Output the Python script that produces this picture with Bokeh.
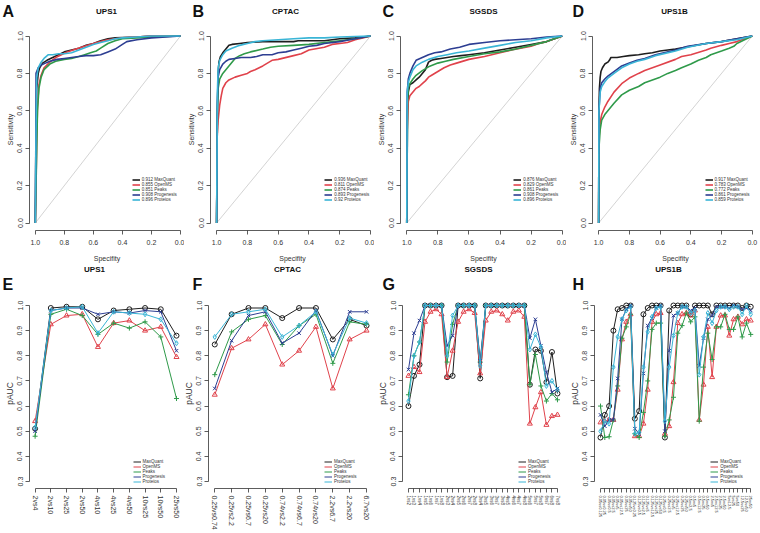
from bokeh.plotting import figure
from bokeh.layouts import column, row
from bokeh.models import Range1d, FixedTicker, Legend, LegendItem, PrintfTickFormatter
from bokeh.core.properties import value
from bokeh.embed import file_html
from bokeh.resources import INLINE

FONT = "Liberation Sans"

SERIES = ["MaxQuant", "OpenMS", "Peaks", "Progenesis", "Proteios"]
COLORS = ["#1e1e1e", "#e0424b", "#2f9a4a", "#2d3e92", "#3ab5d6"]
MARKERS = ["circle", "triangle", "cross", "x", "diamond"]

# ---------------- ROC curves: (specificity, sensitivity) ----------------
UPS1_MAXQUANT = [(1, 0), (0.995, 0.55), (0.99, 0.72), (0.98, 0.8), (0.97, 0.83), (0.95, 0.855), (0.92, 0.87), (0.88, 0.885), (0.84, 0.9), (0.8, 0.915), (0.75, 0.925), (0.7, 0.935), (0.65, 0.95), (0.6, 0.96), (0.55, 0.975), (0.5, 0.985), (0.45, 0.99), (0.3, 0.995), (0.2, 1.0), (0, 1)]
UPS1_OPENMS = [(1, 0), (0.99, 0.45), (0.985, 0.62), (0.975, 0.74), (0.96, 0.79), (0.94, 0.83), (0.9, 0.86), (0.86, 0.885), (0.82, 0.9), (0.78, 0.915), (0.72, 0.93), (0.66, 0.945), (0.6, 0.96), (0.55, 0.97), (0.5, 0.98), (0.45, 0.985), (0.4, 0.99), (0.3, 0.995), (0.2, 1.0), (0, 1)]
UPS1_PEAKS = [(1, 0), (0.99, 0.4), (0.985, 0.6), (0.975, 0.72), (0.96, 0.78), (0.94, 0.82), (0.9, 0.85), (0.86, 0.865), (0.8, 0.875), (0.75, 0.88), (0.7, 0.89), (0.66, 0.9), (0.62, 0.91), (0.58, 0.92), (0.55, 0.935), (0.5, 0.96), (0.45, 0.975), (0.4, 0.985), (0.3, 0.99), (0.2, 0.995), (0, 1)]
UPS1_PROGENESIS = [(1, 0), (0.995, 0.6), (0.995, 0.8), (0.98, 0.83), (0.96, 0.845), (0.93, 0.855), (0.9, 0.865), (0.85, 0.875), (0.8, 0.88), (0.75, 0.885), (0.7, 0.89), (0.65, 0.895), (0.6, 0.895), (0.55, 0.9), (0.5, 0.915), (0.45, 0.93), (0.4, 0.955), (0.37, 0.97), (0.3, 0.98), (0.2, 0.99), (0.1, 0.995), (0, 1)]
UPS1_PROTEIOS = [(1, 0), (0.995, 0.5), (0.99, 0.78), (0.98, 0.83), (0.96, 0.86), (0.94, 0.88), (0.91, 0.9), (0.88, 0.9), (0.84, 0.905), (0.8, 0.905), (0.75, 0.91), (0.7, 0.925), (0.65, 0.94), (0.6, 0.955), (0.55, 0.965), (0.5, 0.975), (0.45, 0.985), (0.4, 0.99), (0.3, 0.995), (0.2, 1.0), (0, 1)]

CPTAC_MAXQUANT = [(1, 0), (0.995, 0.6), (0.99, 0.8), (0.985, 0.86), (0.975, 0.89), (0.96, 0.91), (0.94, 0.93), (0.92, 0.95), (0.9, 0.955), (0.85, 0.96), (0.8, 0.965), (0.7, 0.97), (0.6, 0.97), (0.5, 0.97), (0.47, 0.975), (0.3, 0.975), (0.25, 0.98), (0.2, 0.985), (0.1, 0.99), (0, 1)]
CPTAC_OPENMS = [(1, 0), (0.997, 0.45), (0.99, 0.55), (0.98, 0.63), (0.97, 0.68), (0.96, 0.72), (0.94, 0.75), (0.92, 0.765), (0.88, 0.78), (0.84, 0.79), (0.8, 0.8), (0.78, 0.81), (0.75, 0.82), (0.7, 0.84), (0.64, 0.87), (0.6, 0.875), (0.5, 0.895), (0.45, 0.905), (0.4, 0.925), (0.3, 0.94), (0.25, 0.955), (0.2, 0.96), (0.15, 0.965), (0.1, 0.98), (0.05, 0.99), (0, 1)]
CPTAC_PEAKS = [(1, 0), (0.995, 0.6), (0.99, 0.72), (0.98, 0.77), (0.96, 0.8), (0.94, 0.82), (0.92, 0.84), (0.9, 0.86), (0.88, 0.88), (0.85, 0.895), (0.82, 0.905), (0.78, 0.915), (0.7, 0.93), (0.65, 0.94), (0.6, 0.945), (0.5, 0.95), (0.4, 0.955), (0.3, 0.965), (0.2, 0.975), (0.1, 0.985), (0, 1)]
CPTAC_PROGENESIS = [(1, 0), (0.995, 0.65), (0.99, 0.78), (0.98, 0.82), (0.96, 0.85), (0.94, 0.865), (0.92, 0.875), (0.88, 0.88), (0.84, 0.885), (0.78, 0.885), (0.74, 0.89), (0.7, 0.9), (0.64, 0.9), (0.6, 0.91), (0.55, 0.915), (0.5, 0.925), (0.45, 0.935), (0.4, 0.945), (0.35, 0.95), (0.3, 0.96), (0.2, 0.97), (0.1, 0.985), (0, 1)]
CPTAC_PROTEIOS = [(1, 0), (0.995, 0.7), (0.99, 0.83), (0.98, 0.87), (0.96, 0.9), (0.94, 0.92), (0.9, 0.935), (0.85, 0.95), (0.8, 0.96), (0.75, 0.97), (0.7, 0.975), (0.6, 0.98), (0.5, 0.985), (0.4, 0.99), (0.3, 0.99), (0.2, 0.995), (0, 1)]

SGSDS_MAXQUANT = [(1, 0), (0.995, 0.6), (0.99, 0.7), (0.98, 0.74), (0.96, 0.75), (0.94, 0.765), (0.92, 0.78), (0.9, 0.8), (0.88, 0.82), (0.86, 0.86), (0.84, 0.87), (0.82, 0.875), (0.78, 0.88), (0.74, 0.885), (0.7, 0.89), (0.65, 0.895), (0.6, 0.9), (0.5, 0.91), (0.4, 0.925), (0.3, 0.94), (0.2, 0.955), (0.1, 0.97), (0.05, 0.985), (0, 1)]
SGSDS_OPENMS = [(1, 0), (0.997, 0.5), (0.99, 0.65), (0.98, 0.68), (0.96, 0.7), (0.94, 0.72), (0.92, 0.73), (0.9, 0.745), (0.88, 0.76), (0.86, 0.78), (0.84, 0.79), (0.8, 0.81), (0.76, 0.83), (0.72, 0.845), (0.68, 0.855), (0.6, 0.875), (0.5, 0.89), (0.4, 0.91), (0.3, 0.93), (0.2, 0.945), (0.15, 0.96), (0.1, 0.97), (0.05, 0.985), (0, 1)]
SGSDS_PEAKS = [(1, 0), (0.995, 0.65), (0.99, 0.72), (0.98, 0.745), (0.96, 0.77), (0.94, 0.79), (0.9, 0.815), (0.86, 0.835), (0.8, 0.855), (0.75, 0.865), (0.7, 0.875), (0.6, 0.89), (0.5, 0.905), (0.4, 0.915), (0.3, 0.93), (0.2, 0.95), (0.1, 0.97), (0.05, 0.985), (0, 1)]
SGSDS_PROGENESIS = [(1, 0), (0.997, 0.7), (0.99, 0.77), (0.98, 0.8), (0.96, 0.84), (0.94, 0.87), (0.9, 0.885), (0.86, 0.9), (0.82, 0.91), (0.78, 0.915), (0.72, 0.93), (0.66, 0.94), (0.6, 0.955), (0.5, 0.965), (0.4, 0.975), (0.3, 0.98), (0.2, 0.985), (0.1, 0.995), (0, 1)]
SGSDS_PROTEIOS = [(1, 0), (0.997, 0.7), (0.99, 0.75), (0.98, 0.78), (0.96, 0.82), (0.94, 0.84), (0.9, 0.86), (0.86, 0.875), (0.8, 0.89), (0.74, 0.9), (0.68, 0.91), (0.6, 0.92), (0.5, 0.935), (0.4, 0.95), (0.3, 0.965), (0.2, 0.975), (0.1, 0.99), (0, 1)]

UPS1B_MAXQUANT = [(1, 0), (0.998, 0.6), (0.995, 0.72), (0.99, 0.78), (0.985, 0.81), (0.975, 0.83), (0.96, 0.85), (0.94, 0.86), (0.93, 0.87), (0.92, 0.885), (0.88, 0.885), (0.84, 0.89), (0.8, 0.895), (0.74, 0.9), (0.7, 0.905), (0.65, 0.91), (0.6, 0.92), (0.55, 0.925), (0.5, 0.93), (0.4, 0.945), (0.3, 0.96), (0.2, 0.97), (0.1, 0.985), (0, 1)]
UPS1B_OPENMS = [(1, 0), (0.998, 0.45), (0.99, 0.54), (0.98, 0.58), (0.96, 0.62), (0.94, 0.65), (0.9, 0.7), (0.85, 0.745), (0.8, 0.775), (0.74, 0.8), (0.7, 0.815), (0.6, 0.845), (0.5, 0.875), (0.46, 0.89), (0.4, 0.9), (0.3, 0.925), (0.27, 0.935), (0.2, 0.95), (0.15, 0.96), (0.1, 0.97), (0.05, 0.985), (0, 1)]
UPS1B_PEAKS = [(1, 0), (0.998, 0.4), (0.99, 0.5), (0.98, 0.55), (0.96, 0.58), (0.94, 0.6), (0.9, 0.64), (0.85, 0.685), (0.8, 0.71), (0.74, 0.73), (0.7, 0.75), (0.65, 0.765), (0.6, 0.78), (0.55, 0.8), (0.5, 0.815), (0.46, 0.83), (0.4, 0.85), (0.35, 0.87), (0.3, 0.885), (0.27, 0.9), (0.2, 0.92), (0.15, 0.935), (0.12, 0.945), (0.1, 0.96), (0.05, 0.98), (0, 1)]
UPS1B_PROGENESIS = [(1, 0), (0.998, 0.6), (0.99, 0.72), (0.98, 0.75), (0.96, 0.77), (0.94, 0.785), (0.9, 0.81), (0.85, 0.84), (0.8, 0.855), (0.75, 0.87), (0.7, 0.88), (0.63, 0.9), (0.5, 0.925), (0.42, 0.945), (0.3, 0.96), (0.2, 0.97), (0.1, 0.985), (0, 1)]
UPS1B_PROTEIOS = [(1, 0), (0.998, 0.6), (0.99, 0.7), (0.98, 0.73), (0.96, 0.755), (0.94, 0.775), (0.9, 0.8), (0.85, 0.83), (0.8, 0.85), (0.75, 0.865), (0.7, 0.875), (0.63, 0.895), (0.5, 0.92), (0.42, 0.94), (0.3, 0.96), (0.2, 0.97), (0.1, 0.98), (0, 1)]

UPS1_AUC = ["0.912", "0.855", "0.851", "0.908", "0.896"]
CPTAC_AUC = ["0.936", "0.811", "0.874", "0.893", "0.92"]
SGSDS_AUC = ["0.876", "0.829", "0.861", "0.908", "0.896"]
UPS1B_AUC = ["0.917", "0.783", "0.772", "0.861", "0.859"]

ROC_TICKS = [0.0, 0.2, 0.4, 0.6, 0.8, 1.0]
PAUC_TICKS = [0.3, 0.4, 0.5, 0.6, 0.7, 0.8, 0.9, 1.0]

# ---------------- pAUC per comparison ----------------
E_LABELS = ["2vs4", "2vs10", "2vs25", "2vs50", "4vs10", "4vs25", "4vs50", "10vs25", "10vs50", "25vs50"]
E_MAXQUANT = [0.51, 0.99, 0.995, 0.995, 0.945, 0.98, 0.985, 0.99, 0.985, 0.88]
E_OPENMS = [0.54, 0.925, 0.96, 0.965, 0.835, 0.93, 0.94, 0.90, 0.915, 0.795]
E_PEAKS = [0.48, 0.965, 0.985, 0.96, 0.885, 0.93, 0.91, 0.935, 0.875, 0.63]
E_PROGENESIS = [0.50, 0.98, 0.99, 0.99, 0.965, 0.975, 0.97, 0.98, 0.975, 0.82]
E_PROTEIOS = [0.515, 0.98, 0.99, 0.995, 0.89, 0.975, 0.97, 0.965, 0.945, 0.85]

F_LABELS = ["0.25vs0.74", "0.25vs2.2", "0.25vs6.7", "0.25vs20", "0.74vs2.2", "0.74vs6.7", "0.74vs20", "2.2vs6.7", "2.2vs20", "6.7vs20"]
F_MAXQUANT = [0.845, 0.965, 0.99, 0.99, 0.95, 0.99, 0.99, 0.865, 0.945, 0.92]
F_OPENMS = [0.645, 0.83, 0.865, 0.925, 0.765, 0.82, 0.915, 0.67, 0.865, 0.90]
F_PEAKS = [0.725, 0.895, 0.945, 0.96, 0.845, 0.92, 0.965, 0.77, 0.935, 0.925]
F_PROGENESIS = [0.67, 0.86, 0.96, 0.975, 0.85, 0.89, 0.98, 0.80, 0.975, 0.975]
F_PROTEIOS = [0.875, 0.965, 0.975, 0.985, 0.875, 0.92, 0.975, 0.805, 0.95, 0.93]

G_LABELS = ["1vs2", "1vs3", "1vs4", "1vs5", "1vs6", "1vs7", "1vs8", "2vs3", "2vs4", "2vs5", "2vs6", "2vs7", "2vs8",
            "3vs4", "3vs5", "3vs6", "3vs7", "3vs8", "4vs5", "4vs6", "4vs7", "4vs8", "5vs6", "5vs7", "5vs8", "6vs7", "6vs8", "7vs8"]
G_MAXQUANT = [0.60, 0.72, 0.765, 1.0, 1.0, 1.0, 1.0, 0.715, 0.72, 1.0, 1.0, 1.0, 1.0, 0.71, 1.0, 1.0, 1.0, 1.0, 1.0, 1.0, 1.0, 1.0, 0.685, 0.825, 0.82, 0.695, 0.815, 0.65]
G_OPENMS = [0.72, 0.755, 0.735, 0.935, 0.975, 0.985, 0.965, 0.715, 0.82, 0.935, 0.975, 0.985, 0.97, 0.73, 0.94, 0.975, 0.98, 0.965, 0.94, 0.975, 0.98, 0.955, 0.53, 0.595, 0.655, 0.525, 0.56, 0.565]
G_PEAKS = [0.645, 0.80, 0.855, 1.0, 1.0, 1.0, 1.0, 0.775, 0.925, 1.0, 1.0, 1.0, 1.0, 0.775, 1.0, 1.0, 1.0, 1.0, 1.0, 1.0, 1.0, 1.0, 0.685, 0.805, 0.68, 0.62, 0.65, 0.625]
G_PROGENESIS = [0.745, 0.89, 0.94, 1.0, 1.0, 1.0, 1.0, 0.84, 0.88, 1.0, 1.0, 1.0, 1.0, 0.78, 1.0, 1.0, 1.0, 1.0, 1.0, 1.0, 1.0, 1.0, 0.87, 0.945, 0.84, 0.735, 0.655, 0.67]
G_PROTEIOS = [0.62, 0.80, 0.855, 1.0, 1.0, 1.0, 1.0, 0.80, 0.96, 1.0, 1.0, 1.0, 1.0, 0.76, 1.0, 1.0, 1.0, 1.0, 1.0, 1.0, 1.0, 1.0, 0.825, 0.885, 0.835, 0.68, 0.70, 0.665]

H_LABELS = ["0.05vs0.125", "0.05vs0.25", "0.05vs0.5", "0.05vs2.5", "0.05vs5", "0.05vs12.5", "0.05vs25", "0.05vs50",
            "0.125vs0.25", "0.125vs0.5", "0.125vs2.5", "0.125vs5", "0.125vs12.5", "0.125vs25", "0.125vs50",
            "0.25vs0.5", "0.25vs2.5", "0.25vs5", "0.25vs12.5", "0.25vs25", "0.25vs50",
            "0.5vs2.5", "0.5vs5", "0.5vs12.5", "0.5vs25", "0.5vs50",
            "2.5vs5", "2.5vs12.5", "2.5vs25", "2.5vs50", "5vs12.5", "5vs25", "5vs50", "12.5vs25", "12.5vs50", "25vs50"]
H_MAXQUANT = [0.475, 0.565, 0.60, 0.90, 0.985, 0.99, 1.0, 1.0, 0.55, 0.58, 0.965, 0.99, 1.0, 1.0, 1.0, 0.475, 0.98, 1.0, 1.0, 1.0, 1.0,
              0.965, 1.0, 1.0, 1.0, 1.0, 0.965, 1.0, 1.0, 1.0, 1.0, 1.0, 1.0, 0.99, 1.0, 0.995]
H_OPENMS = [0.535, 0.54, 0.545, 0.545, 0.665, 0.865, 0.935, 0.965, 0.48, 0.48, 0.53, 0.665, 0.935, 0.965, 0.97, 0.49, 0.52, 0.695, 0.93, 0.965, 0.97,
            0.96, 0.98, 0.545, 0.685, 0.915, 0.715, 0.915, 0.96, 0.96, 0.88, 0.945, 0.955, 0.925, 0.945, 0.94]
H_PEAKS = [0.60, 0.475, 0.478, 0.545, 0.68, 0.87, 0.915, 0.965, 0.49, 0.475, 0.575, 0.70, 0.905, 0.93, 0.93, 0.48, 0.545, 0.635, 0.89, 0.92, 0.97,
           0.935, 0.955, 0.54, 0.755, 0.89, 0.785, 0.915, 0.915, 0.965, 0.905, 0.905, 0.955, 0.875, 0.93, 0.885]
H_PROGENESIS = [0.565, 0.52, 0.545, 0.545, 0.71, 0.945, 0.985, 1.0, 0.51, 0.49, 0.73, 0.92, 0.95, 0.99, 1.0, 0.50, 0.82, 0.96, 0.97, 0.995, 0.995,
                0.98, 0.99, 0.76, 0.87, 0.945, 0.96, 0.995, 0.995, 0.995, 0.99, 1.0, 0.995, 0.985, 0.99, 0.98]
H_PROTEIOS = [0.50, 0.54, 0.53, 0.755, 0.875, 0.945, 0.98, 0.995, 0.49, 0.495, 0.755, 0.895, 0.955, 0.99, 0.995, 0.54, 0.755, 0.88, 0.97, 0.995, 0.995,
              0.97, 0.98, 0.725, 0.875, 0.97, 0.93, 0.98, 0.995, 0.995, 0.985, 0.995, 0.995, 0.965, 1.0, 0.965]


def build(px0, px1, py0, py1, fx0, fx1, fy0, fy1, xmap, ymap):
    (xv1, xp1), (xv2, xp2) = xmap
    kx = (xp2 - xp1) / (xv2 - xv1)
    xs = xv1 + (fx0 - xp1) / kx
    xe = xv1 + (fx1 - xp1) / kx
    (yv1, yp1), (yv2, yp2) = ymap
    ky = (yp2 - yp1) / (yv2 - yv1)
    ys = yv1 + (fy1 - yp1) / ky
    ye = yv1 + (fy0 - yp1) / ky
    p = figure(width=round(px1) - round(px0), height=round(py1) - round(py0),
               x_range=Range1d(xs, xe), y_range=Range1d(ys, ye),
               output_backend="svg", toolbar_location=None,
               min_border_left=round(fx0) - round(px0),
               min_border_right=round(px1) - round(fx1),
               min_border_top=round(fy0) - round(py0),
               min_border_bottom=round(py1) - round(fy1))
    p.grid.visible = False
    p.outline_line_color = None
    p.background_fill_color = "white"
    p.border_fill_color = "white"
    return p


def header(px0, px1, py0, py1, letter, letter_x, letter_y, title, title_x, title_y):
    h = figure(width=round(px1) - round(px0), height=round(py1) - round(py0),
               x_range=Range1d(px0, px1), y_range=Range1d(py1, py0),
               x_axis_type=None, y_axis_type=None, output_backend="svg", toolbar_location=None,
               min_border=0)
    h.grid.visible = False
    h.outline_line_color = None
    h.text(x=[letter_x], y=[letter_y], text=[letter], text_font=value(FONT), text_font_size="16px",
           text_font_style="bold", text_align="left", text_baseline="middle", text_color="#111111")
    h.text(x=[title_x], y=[title_y], text=[title], text_font=value(FONT), text_font_size="8px",
           text_font_style="bold", text_align="center", text_baseline="middle", text_color="#111111")
    return h


def style_axes(p, xlabel, ylabel, ylabel_size, xticks, yticks, xbounds, ybounds):
    for ax in (p.xaxis[0], p.yaxis[0]):
        ax.axis_line_color = "#333333"
        ax.axis_line_width = 0.8
        ax.major_tick_line_color = "#333333"
        ax.major_tick_line_width = 0.8
        ax.minor_tick_line_color = None
        ax.major_tick_in = 0
        ax.major_tick_out = 4
        ax.major_label_text_font = FONT
        ax.major_label_text_font_size = "7px"
        ax.major_label_text_color = "#333333"
        ax.axis_label_text_font = FONT
        ax.axis_label_text_font_style = "normal"
        ax.axis_label_text_color = "#333333"
    p.xaxis[0].ticker = FixedTicker(ticks=xticks)
    p.yaxis[0].ticker = FixedTicker(ticks=yticks)
    p.yaxis[0].formatter = PrintfTickFormatter(format="%.1f")
    p.xaxis[0].bounds = xbounds
    p.yaxis[0].bounds = ybounds
    p.yaxis[0].major_label_orientation = "vertical"
    p.yaxis[0].major_label_standoff = 3
    p.yaxis[0].axis_label = ylabel
    p.yaxis[0].axis_label_text_font_size = ylabel_size
    p.yaxis[0].axis_label_standoff = 1
    if xlabel:
        p.xaxis[0].formatter = PrintfTickFormatter(format="%.1f")
        p.xaxis[0].axis_label = xlabel
        p.xaxis[0].axis_label_text_font_size = "7px"
        p.xaxis[0].axis_label_standoff = 7
        p.xaxis[0].major_label_standoff = 5


def add_legend(p, fx0, fy1, X, Ybottom, items):
    leg = Legend(items=items, location=(X - fx0, fy1 - Ybottom),
                 label_text_font=FONT, label_text_font_size="4.5px", label_text_color="#333333",
                 glyph_width=8, glyph_height=5, label_height=5, label_standoff=2,
                 spacing=0, padding=0, margin=0, border_line_alpha=0, background_fill_alpha=0)
    p.add_layout(leg)


TOP_Y0, TOP_Y1, TOP_HDR = 0, 264, 20
BOT_Y0, BOT_Y1, BOT_HDR = 264, 533, 292


def roc_panel(px0, px1, fx0, fx1, x1px, x0px, curves, aucs, leg_x):
    fy0, fy1 = 27.5, 229.5
    p = build(px0, px1, TOP_HDR, TOP_Y1, fx0, fx1, fy0, fy1, ((1.0, x1px), (0.0, x0px)), ((1.0, 35), (0.0, 222)))
    style_axes(p, "Specifity", "Sensitivity", "7px", ROC_TICKS, ROC_TICKS, (0, 1), (0, 1))
    p.line([1, 0], [0, 1], line_color="#c8c8c8", line_width=0.8)
    items = []
    for name, col, pts, auc in zip(SERIES, COLORS, curves, aucs):
        r = p.line([a for a, b in pts], [b for a, b in pts], line_color=col, line_width=1.6)
        items.append(LegendItem(label=auc + " " + name, renderers=[r]))
    add_legend(p, fx0, fy1, leg_x, 201.5, items)
    return p


def pauc_panel(px0, px1, fx0, fx1, firstpx, lastpx, labels, series_vals, leg_x, label_size):
    n = len(labels)
    fy0, fy1 = 298, 488
    p = build(px0, px1, BOT_HDR, BOT_Y1, fx0, fx1, fy0, fy1, ((0, firstpx), (n - 1, lastpx)), ((1.0, 305), (0.3, 481)))
    style_axes(p, None, "pAUC", "8.5px", list(range(n)), PAUC_TICKS, (0, n - 1), (0.3, 1.0))
    xa = p.xaxis[0]
    xa.major_label_overrides = {i: lab for i, lab in enumerate(labels)}
    xa.major_label_orientation = "vertical"
    xa.major_label_text_font_size = label_size
    xa.major_label_standoff = 3
    p.yaxis[0].axis_label_standoff = 0
    xs = list(range(n))
    items = []
    for name, col, mk, vals in zip(SERIES, COLORS, MARKERS, series_vals):
        r = p.line(xs, vals, line_color=col, line_width=1)
        p.scatter(xs, vals, marker=mk, size=5, line_color=col, fill_color=None, line_width=1)
        items.append(LegendItem(label=name, renderers=[r]))
    add_legend(p, fx0, fy1, leg_x, 483.5, items)
    return p


TOP_COLS = [(0, 184), (184, 374), (374, 566), (566, 760)]
BOT_COLS = [(0, 180), (180, 374), (374, 566), (566, 760)]

hA = header(0, 184, TOP_Y0, TOP_HDR, "A", 2, 10.5, "UPS1", 106, 10.5)
hB = header(184, 374, TOP_Y0, TOP_HDR, "B", 192, 10.5, "CPTAC", 285, 10.5)
hC = header(374, 566, TOP_Y0, TOP_HDR, "C", 382, 10.5, "SGSDS", 483, 10.5)
hD = header(566, 760, TOP_Y0, TOP_HDR, "D", 572, 10.5, "UPS1B", 674, 10.5)

pA = roc_panel(0, 184, 29.2, 184, 35, 180,
               [UPS1_MAXQUANT, UPS1_OPENMS, UPS1_PEAKS, UPS1_PROGENESIS, UPS1_PROTEIOS], UPS1_AUC, 132)
pB = roc_panel(184, 374, 207.8, 374, 214, 370,
               [CPTAC_MAXQUANT, CPTAC_OPENMS, CPTAC_PEAKS, CPTAC_PROGENESIS, CPTAC_PROTEIOS], CPTAC_AUC, 322)
pC = roc_panel(374, 566, 398.7, 566, 405, 561.7,
               [SGSDS_MAXQUANT, SGSDS_OPENMS, SGSDS_PEAKS, SGSDS_PROGENESIS, SGSDS_PROTEIOS], SGSDS_AUC, 512)
pD = roc_panel(566, 760, 590.5, 758, 596.7, 751.7,
               [UPS1B_MAXQUANT, UPS1B_OPENMS, UPS1B_PEAKS, UPS1B_PROGENESIS, UPS1B_PROTEIOS], UPS1B_AUC, 703)

hE = header(0, 180, BOT_Y0, BOT_HDR, "E", 2, 284, "UPS1", 94, 269)
hF = header(180, 374, BOT_Y0, BOT_HDR, "F", 192, 284, "CPTAC", 287, 269)
hG = header(374, 566, BOT_Y0, BOT_HDR, "G", 382, 284, "SGSDS", 478, 269)
hH = header(566, 760, BOT_Y0, BOT_HDR, "H", 572, 284, "UPS1B", 668, 269)

pE = pauc_panel(0, 180, 29.4, 180, 35, 176, E_LABELS,
                [E_MAXQUANT, E_OPENMS, E_PEAKS, E_PROGENESIS, E_PROTEIOS], 133, "7px")
pF = pauc_panel(180, 374, 207, 373, 213.3, 366, F_LABELS,
                [F_MAXQUANT, F_OPENMS, F_PEAKS, F_PROGENESIS, F_PROTEIOS], 323, "7px")
pG = pauc_panel(374, 566, 398.9, 564.5, 405, 557.3, G_LABELS,
                [G_MAXQUANT, G_OPENMS, G_PEAKS, G_PROGENESIS, G_PROTEIOS], 515, "4.5px")
pH = pauc_panel(566, 760, 588.8, 758, 595, 750, H_LABELS,
                [H_MAXQUANT, H_OPENMS, H_PEAKS, H_PROGENESIS, H_PROTEIOS], 705, "4px")

layout = column(row(hA, hB, hC, hD), row(pA, pB, pC, pD), row(hE, hF, hG, hH), row(pE, pF, pG, pH))
open("out.html", "w").write(file_html(layout, INLINE))
